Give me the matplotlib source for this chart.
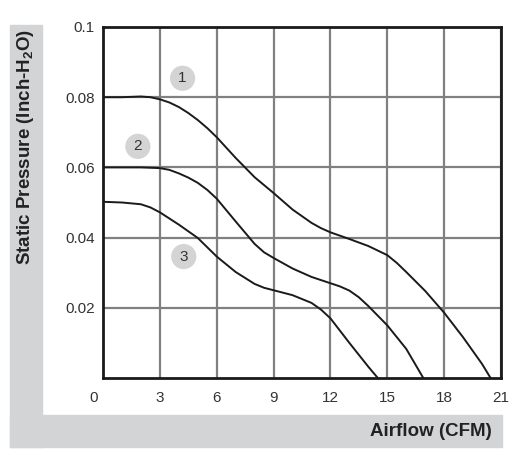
import matplotlib
matplotlib.use("Agg")
import matplotlib.pyplot as plt
from matplotlib.patches import Rectangle
from matplotlib.transforms import ScaledTranslation

plt.rcParams['font.family'] = ['Liberation Sans', 'DejaVu Sans']
plt.rcParams['mathtext.fontset'] = 'custom'
plt.rcParams['mathtext.rm'] = 'Liberation Sans:bold'
plt.rcParams['mathtext.bf'] = 'Liberation Sans:bold'

# Data
x1 = [0, 1, 2, 2.5, 3, 3.5, 4, 4.5, 5, 5.5, 6, 7, 8, 9, 10, 11, 11.5, 12, 13, 14, 15,
      15.5, 16, 17, 18, 19, 20, 20.45]
y1 = [0.0800, 0.0800, 0.0802, 0.0800, 0.0794, 0.0785, 0.0772, 0.0755, 0.0735, 0.0712,
      0.0686, 0.0627, 0.0572, 0.0527, 0.0480, 0.0442, 0.0427, 0.0415, 0.0396, 0.0376,
      0.0350, 0.0328, 0.0302, 0.0248, 0.0186, 0.0116, 0.0040, 0.0]
x2 = [0, 1, 2, 3, 3.5, 4, 4.5, 5, 5.5, 6, 7, 8, 8.5, 9, 10, 11, 12, 12.5, 13, 13.5, 14,
      15, 16, 16.9]
y2 = [0.0600, 0.0600, 0.0600, 0.0598, 0.0593, 0.0583, 0.0571, 0.0556, 0.0536, 0.0511,
      0.0446, 0.0382, 0.0358, 0.0342, 0.0312, 0.0288, 0.0270, 0.0261, 0.0249, 0.0230,
      0.0205, 0.0150, 0.0083, 0.0]
x3 = [0, 1, 2, 2.5, 3, 4, 5, 6, 7, 8, 8.5, 9, 10, 11, 11.5, 12, 13, 14, 14.5]
y3 = [0.0502, 0.0500, 0.0495, 0.0486, 0.0472, 0.0437, 0.0399, 0.0346, 0.0302, 0.0268,
      0.0257, 0.0250, 0.0236, 0.0214, 0.0195, 0.0170, 0.0100, 0.0032, 0.0]

curve_labels = ['1', '2', '3']
label_x = [4.2, 1.84, 4.26]
label_y = [0.0854, 0.0660, 0.0346]

x_ticks = [0, 3, 6, 9, 12, 15, 18, 21]
y_ticks = [0.02, 0.04, 0.06, 0.08, 0.1]
y_tick_labels = ['0.02', '0.04', '0.06', '0.08', '0.1']

W, H = 520, 463
fig = plt.figure(figsize=(W / 100, H / 100), dpi=100)

gray = '#d3d4d6'
# L-shaped gray band (figure coords)
fig.patches.append(Rectangle((10 / W, 1 - 447 / H), 32 / W, (447 - 25) / H,
                             transform=fig.transFigure, color=gray, zorder=0))
fig.patches.append(Rectangle((10 / W, 1 - 447 / H), (502 - 10) / W, 32 / H,
                             transform=fig.transFigure, color=gray, zorder=0))

ax = fig.add_axes([103 / W, 1 - 378 / H, (501 - 103) / W, (378 - 27) / H])
ax.set_xlim(0, 21)
ax.set_ylim(0, 0.1)

for xs, ys in [(x1, y1), (x2, y2), (x3, y3)]:
    ax.plot(xs, ys, color='#1a1a1a', lw=1.4, zorder=3, solid_joinstyle='round')

ax.scatter(label_x, label_y, s=330, color='#d4d4d4', edgecolors='none', zorder=4)
for t, lx, ly in zip(curve_labels, label_x, label_y):
    ax.text(lx, ly, t, ha='center', va='center', fontsize=11, color='#333333', zorder=5)

ax.set_xticks(x_ticks)
ax.set_yticks(y_ticks)
ax.set_yticklabels(y_tick_labels)
ax.grid(True, color='#808080', lw=1.6)
ax.set_axisbelow(True)
ax.tick_params(length=0, labelsize=11, labelcolor='#333333', pad=6)
ax.tick_params(axis='x', pad=9)
for s in ax.spines.values():
    s.set_linewidth(2)
    s.set_color('#1a1a1a')

# shift "0" x label slightly left as in the reference
lbl0 = ax.get_xticklabels()[0]
lbl0.set_transform(lbl0.get_transform() + ScaledTranslation(-9 / 100, 0, fig.dpi_scale_trans))

fig.text(26 / W, 1 - 147 / H, 'Static Pressure (Inch-H$_2$O)', rotation=90,
         ha='center', va='center', fontsize=13.5, fontweight='bold', color='#222222')
fig.text(492 / W, 1 - 432 / H, 'Airflow (CFM)', ha='right', va='center',
         fontsize=13.5, fontweight='bold', color='#222222')

fig.savefig('out.png', dpi=100)
